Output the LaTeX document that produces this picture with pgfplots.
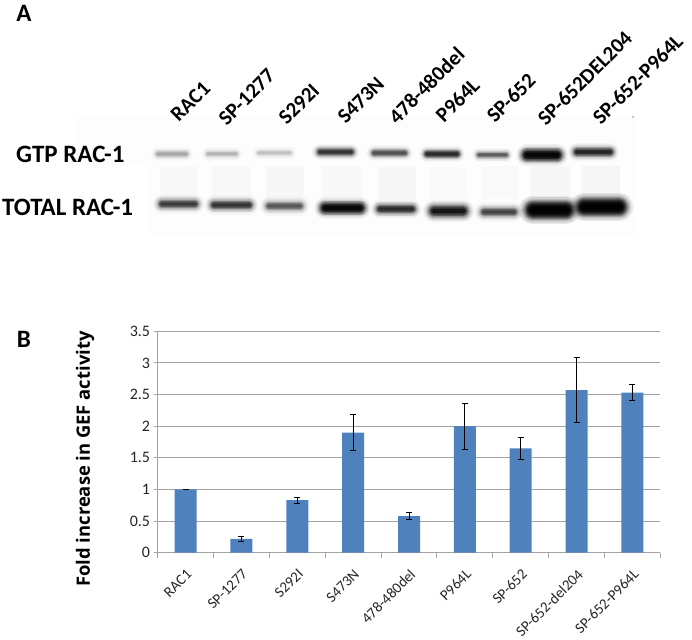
\documentclass[border=0pt]{standalone}
\usepackage{fontspec}
\setmainfont{Carlito}
\newfontfamily\ylabfont{Open Sans}
\usepackage{pgfplots}
\pgfplotsset{compat=1.18}

\definecolor{barblue}{HTML}{4F81BD}
\definecolor{gridgray}{HTML}{A3A3A3}

% soft blot band: x1, x2, y, thickness, opacity per layer
\newcommand{\bandlayer}[5]{%
  \addplot[forget plot,black,line cap=round,line width=#4,opacity=#5] coordinates {(#1,#3) (#2,#3)};
}
\newcommand{\band}[5]{%
  \bandlayer{#1}{#2}{#3}{2.4*#4}{0.12*#5}
  \bandlayer{#1}{#2}{#3}{2.1*#4}{0.16*#5}
  \bandlayer{#1}{#2}{#3}{1.85*#4}{0.22*#5}
  \bandlayer{#1}{#2}{#3}{1.65*#4}{0.3*#5}
  \bandlayer{#1}{#2}{#3}{1.45*#4}{0.4*#5}
  \bandlayer{#1}{#2}{#3}{1.25*#4}{0.5*#5}
  \bandlayer{#1}{#2}{#3}{1.1*#4}{0.6*#5}
  \bandlayer{#1}{#2}{#3}{0.95*#4}{0.7*#5}
  \bandlayer{#1}{#2}{#3}{0.8*#4}{0.8*#5}
  \bandlayer{#1}{#2}{#3}{0.65*#4}{0.9*#5}
  \bandlayer{#1}{#2}{#3}{0.5*#4}{#5}
  \bandlayer{#1}{#2}{#3}{0.35*#4}{#5}
}
\newcommand{\lane}[4]{%
  \addplot[forget plot,draw=none,fill=black,opacity=#4] coordinates {(#1,#3) (#2,#3) (#2,199) (#1,199)} --cycle;
}

\begin{document}
\begin{tikzpicture}[x=1pt,y=1pt]
\useasboundingbox (0,0) rectangle (692pt,639pt);

% panel A, pixel coordinates of the page
\begin{axis}[
  at={(0pt,0pt)},anchor=south west,
  scale only axis,width=692pt,height=639pt,
  xmin=0,xmax=692,ymin=0,ymax=639,y dir=reverse,
  hide axis,clip=false]

  \addplot[forget plot,draw=none,fill=black,opacity=0.008] coordinates {(75,115) (635,115) (635,237) (150,237) (150,165) (75,165)} --cycle;
  \lane{160}{197}{166}{0.018}
  \lane{212}{251}{166}{0.018}
  \lane{266}{304}{166}{0.022}
  \lane{322}{362}{166}{0.018}
  \lane{378}{416}{166}{0.022}
  \lane{430}{467}{166}{0.012}
  \lane{482}{518}{166}{0.014}
  \lane{530}{570}{166}{0.022}
  \lane{582}{620}{166}{0.028}
  \addplot[forget plot,only marks,mark=*,mark size=0.6pt,gray!70,mark options={draw=none}] coordinates {(633,117)};

  \band{158}{186}{154}{6.5pt}{0.06}
  \band{208}{236}{154}{6pt}{0.05}
  \band{259}{290}{153}{6pt}{0.04}
  \band{320}{351}{152}{7pt}{0.22}
  \band{374}{405}{153}{6.5pt}{0.16}
  \band{427}{457}{154}{6.5pt}{0.24}
  \band{479}{506}{155}{6pt}{0.14}
  \band{527}{557}{155}{9pt}{0.45}
  \band{577}{610}{152}{7.5pt}{0.26}

  \band{162}{195}{204}{8pt}{0.2}
  \band{214}{249}{205}{8pt}{0.22}
  \band{269}{300}{206}{8pt}{0.15}
  \band{325}{360}{208}{9pt}{0.42}
  \band{380}{412}{209}{8pt}{0.24}
  \band{434}{463}{211}{9.5pt}{0.32}
  \band{484}{514}{212}{8pt}{0.18}
  \band{533}{566}{210}{12pt}{0.6}
  \band{584}{619}{207}{12pt}{0.6}

  \node[font=\fontsize{25}{27}\selectfont\bfseries,anchor=west,inner sep=0pt] at (16,154) {GTP RAC-1};
  \node[font=\fontsize{25}{27}\selectfont\bfseries,anchor=west,inner sep=0pt] at (2,207) {TOTAL RAC-1};
  \node[font=\fontsize{25}{27}\selectfont\bfseries,inner sep=0pt] at (24,13) {A};
  \node[font=\fontsize{25}{27}\selectfont\bfseries,inner sep=0pt] at (24,339) {B};

  \begin{scope}[every node/.style={font=\fontsize{21}{23}\selectfont\bfseries,anchor=west,rotate=45,inner sep=0pt}]
    \node at (174,118) {RAC1};
    \node at (222,122) {SP-1277};
    \node at (282,121) {S292I};
    \node at (341,120) {S473N};
    \node at (392,120) {478-480del};
    \node at (439,119) {P964L};
    \node at (490,119) {SP-652};
    \node at (541,122) {SP-652DEL204};
    \node at (596,121) {SP-652-P964L};
  \end{scope}

  \node[font=\ylabfont\fontsize{18.4}{20}\selectfont\bfseries,rotate=90,inner sep=0pt] at (85,459) {Fold increase in GEF activity};
\end{axis}

% panel B
\begin{axis}[
  at={(157.6pt,86.3pt)},anchor=south west,
  scale only axis,width=502.8pt,height=221.4pt,
  xmin=0,xmax=9,ymin=0,ymax=3.5,
  axis lines=left,axis line style={gridgray,-,line width=0.9pt},
  ytick={0,0.5,1,1.5,2,2.5,3,3.5},
  yticklabels={0,0.5,1,1.5,2,2.5,3,3.5},
  ymajorgrids,grid style={gridgray,line width=0.9pt},
  xtick={0.5,1.5,2.5,3.5,4.5,5.5,6.5,7.5,8.5},
  xticklabels={RAC1,SP-1277,S292I,S473N,478-480del,P964L,SP-652,SP-652-del204,SP-652-P964L},
  minor xtick={0,1,2,3,4,5,6,7,8,9},
  tick align=outside,
  major x tick style={draw=none},
  minor tick length=5pt,minor tick style={gridgray,line width=0.9pt},
  y tick style={gridgray,line width=0.9pt},major tick length=4pt,
  yticklabel style={font=\fontsize{16}{18}\selectfont,text=black!85,/pgf/number format/assume math mode=true},
  xticklabel style={font=\fontsize{15}{17}\selectfont,text=black!85,rotate=45,anchor=north east,inner sep=0pt,xshift=-8pt,yshift=-8pt},
  ]
  \addplot[ybar,bar width=22pt,fill=barblue,draw=none,
    error bars/.cd,y dir=both,y explicit,
    error bar style={black,line width=0.8pt},error mark options={rotate=90,mark size=3pt,black,line width=0.8pt}]
    coordinates {
    (0.5,1.00) +- (0,0.005)
    (1.5,0.22) +- (0,0.04)
    (2.5,0.83) +- (0,0.05)
    (3.5,1.90) +- (0,0.28)
    (4.5,0.58) +- (0,0.055)
    (5.5,2.00) +- (0,0.36)
    (6.5,1.65) +- (0,0.17)
    (7.5,2.57) +- (0,0.515)
    (8.5,2.53) +- (0,0.125)
  };
\end{axis}
\end{tikzpicture}
\end{document}
